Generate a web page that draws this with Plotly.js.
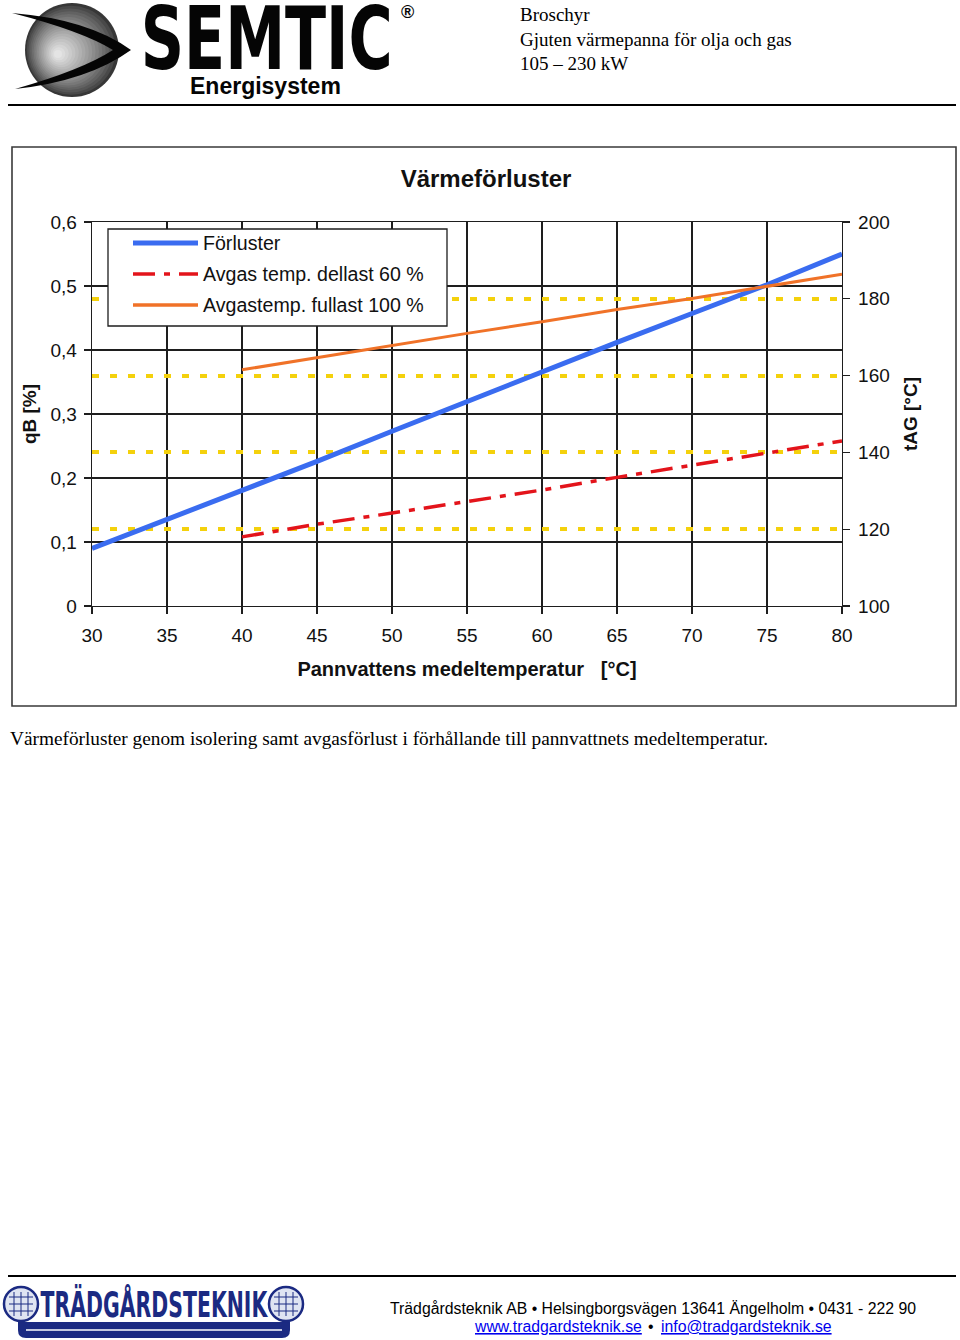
<!DOCTYPE html>
<html><head><meta charset="utf-8">
<script src="https://cdn.plot.ly/plotly-3.0.1.min.js"></script>
<style>html,body{margin:0;padding:0;background:#fff;} #chart{width:960px;height:1340px;}</style>
</head><body><div id="chart"></div>
<script>
// ---- data ----
const temps = [30, 35, 40, 45, 50, 55, 60, 65, 70, 75, 80];
const forluster = [0.09, 0.135, 0.18, 0.226, 0.273, 0.32, 0.365, 0.412, 0.457, 0.502, 0.55];
const avgasTemps = [40, 45, 50, 55, 60, 65, 70, 75, 80];
const avgasDellast = [118.0, 121.3, 124.2, 127.2, 130.2, 133.5, 136.7, 139.9, 143.0];
const avgasFullast = [161.5, 164.7, 167.9, 171.0, 174.0, 177.2, 180.1, 183.2, 186.4];
const seriesNames = ['Förluster', 'Avgas temp. dellast 60 %', 'Avgastemp. fullast 100 %'];
const xTicks = [30, 35, 40, 45, 50, 55, 60, 65, 70, 75, 80];
const leftTicks = [0, 0.1, 0.2, 0.3, 0.4, 0.5, 0.6];
const rightTicks = [100, 120, 140, 160, 180, 200];
const refTicks = [120, 140, 160, 180];
const chartTitle = 'Värmeförluster';
const xTitle = 'Pannvattens medeltemperatur\u00a0\u00a0 [°C]';
const yTitle = 'qB [%]';
const y2Title = 'tAG [°C]';
const headerLines = ['Broschyr', 'Gjuten värmepanna för olja och gas', '105 – 230 kW'];
const caption = 'Värmeförluster genom isolering samt avgasförlust i förhållande till pannvattnets medeltemperatur.';
const footerLine = 'Trädgårdsteknik AB • Helsingborgsvägen 13641 Ängelholm • 0431 - 222 90';
const footerWeb = 'www.tradgardsteknik.se';
const footerMail = 'info@tradgardsteknik.se';

// ---- helpers (page pixel -> paper) ----
const W = 960, H = 1340;
const px = x => x / W;
const py = y => 1 - y / H;
const P = s => s.replace(/(-?\d+\.?\d*),(-?\d+\.?\d*)/g, (m, a, b) => (a / W).toFixed(5) + ',' + (1 - b / H).toFixed(5));

const SANS = 'Liberation Sans, Arial, sans-serif';
const SERIF = 'Liberation Serif, Times New Roman, serif';
const COND = 'DejaVu Sans Condensed, DejaVu Sans, sans-serif';
const ink = '#111111';
const gridCol = '#1e1e1e';
const blue = '#3a6cf0', red = '#e3141b', orange = '#f07228', yellow = '#f4d10c', navy = '#1b2a82';
const redDash = '22px,9px,6px,9px';

const traces = [
  {x: temps, y: forluster, type: 'scatter', mode: 'lines', name: seriesNames[0],
   line: {color: blue, width: 5}, xaxis: 'x', yaxis: 'y', hoverinfo: 'skip'},
  {x: avgasTemps, y: avgasDellast, type: 'scatter', mode: 'lines', name: seriesNames[1],
   line: {color: red, width: 3.5, dash: redDash}, xaxis: 'x', yaxis: 'y2', hoverinfo: 'skip'},
  {x: avgasTemps, y: avgasFullast, type: 'scatter', mode: 'lines', name: seriesNames[2],
   line: {color: orange, width: 3}, xaxis: 'x', yaxis: 'y2', hoverinfo: 'skip'},
  // empty trace so the reference-line axis (yaxis3) gets its subplot and grid drawn
  {x: [], y: [], type: 'scatter', mode: 'lines', xaxis: 'x', yaxis: 'y3', hoverinfo: 'skip', showlegend: false}
];

const axisCommon = {
  ticks: 'outside', ticklen: 7, tickwidth: 1.3, tickcolor: gridCol,
  showline: true, linecolor: gridCol, linewidth: 1.3, zeroline: false,
  automargin: false, tickfont: {family: SANS, size: 19, color: ink}
};

const shapes = [];
const annotations = [];

// header rule and footer rule
shapes.push({type: 'line', xref: 'paper', yref: 'paper', x0: px(8), x1: px(956), y0: py(105), y1: py(105), line: {color: '#000', width: 2}});
shapes.push({type: 'line', xref: 'paper', yref: 'paper', x0: px(8), x1: px(956), y0: py(1276), y1: py(1276), line: {color: '#000', width: 2}});
// chart frame
shapes.push({type: 'rect', xref: 'paper', yref: 'paper', x0: px(12), x1: px(956), y0: py(706), y1: py(147), line: {color: '#3a3a3a', width: 1.6}, layer: 'below'});

// SEMTIC logo: shaded sphere (stacked discs for a soft gradient)
const nSteps = 18;
for (let i = 0; i < nSteps; i++) {
  const t = i / (nSteps - 1);
  const r = 47 * (1 - t) + 4 * t;
  const cx = 72 - 14 * t, cy = 50 + 4 * t;
  const g = Math.round(55 + (228 - 55) * Math.pow(t, 0.8));
  shapes.push({type: 'circle', xref: 'paper', yref: 'paper', x0: px(cx - r), x1: px(cx + r), y0: py(cy + r), y1: py(cy - r),
    fillcolor: `rgb(${g},${g},${g})`, line: {width: 0}, layer: 'above'});
}
// swoosh
shapes.push({type: 'path', xref: 'paper', yref: 'paper', layer: 'above', fillcolor: '#050505', line: {width: 0},
  path: P('M12,13 Q88,19 131,50 Q88,81 15,89 Q82,70 113,50 Q82,31 12,13 Z')});
annotations.push({text: 'SEMTIC', x: px(266), y: py(39), xref: 'paper', yref: 'paper', xanchor: 'center', yanchor: 'middle', showarrow: false,
  font: {family: COND, size: 80, weight: 'bold', color: '#050505'}});
annotations.push({text: '®', x: px(407), y: py(12), xref: 'paper', yref: 'paper', xanchor: 'center', yanchor: 'middle', showarrow: false,
  font: {family: SANS, size: 18, weight: 'bold', color: '#050505'}});
annotations.push({text: 'Energisystem', x: px(265), y: py(86), xref: 'paper', yref: 'paper', xanchor: 'center', yanchor: 'middle', showarrow: false,
  font: {family: SANS, size: 23, weight: 'bold', color: '#050505'}});

// header text
annotations.push({text: headerLines.join('<br>'), x: px(518), y: py(39), xref: 'paper', yref: 'paper', xanchor: 'left', yanchor: 'middle', align: 'left', showarrow: false,
  font: {family: SERIF, size: 19, color: '#000'}});

// caption
annotations.push({text: caption, x: px(8), y: py(738), xref: 'paper', yref: 'paper', xanchor: 'left', yanchor: 'middle', showarrow: false,
  font: {family: SERIF, size: 19.3, color: '#000'}});

// footer text
annotations.push({text: footerLine, x: px(653), y: py(1308), xref: 'paper', yref: 'paper', xanchor: 'center', yanchor: 'middle', showarrow: false,
  font: {family: SANS, size: 15.8, color: '#000'}});
annotations.push({text: footerWeb, x: px(644), y: py(1326), xref: 'paper', yref: 'paper', xanchor: 'right', yanchor: 'middle', showarrow: false,
  font: {family: SANS, size: 15.8, color: '#0000ee', lineposition: 'under'}});
annotations.push({text: '•', x: px(651), y: py(1326), xref: 'paper', yref: 'paper', xanchor: 'center', yanchor: 'middle', showarrow: false,
  font: {family: SANS, size: 15.8, color: '#000'}});
annotations.push({text: footerMail, x: px(659), y: py(1326), xref: 'paper', yref: 'paper', xanchor: 'left', yanchor: 'middle', showarrow: false,
  font: {family: SANS, size: 15.8, color: '#0000ee', lineposition: 'under'}});

// footer logo (Trädgårdsteknik)
shapes.push({type: 'path', xref: 'paper', yref: 'paper', layer: 'above', fillcolor: navy, line: {width: 0},
  path: P('M18,1322 L290,1322 L290,1330 Q290,1338 282,1338 L26,1338 Q18,1338 18,1330 Z')});
shapes.push({type: 'line', xref: 'paper', yref: 'paper', layer: 'above', x0: px(26), x1: px(282), y0: py(1330), y1: py(1330), line: {color: '#ffffff', width: 1.5}});
[[21, 1304], [286, 1304]].forEach(c => {
  const [cx, cy] = c, r = 17;
  shapes.push({type: 'circle', xref: 'paper', yref: 'paper', layer: 'above', x0: px(cx - r), x1: px(cx + r), y0: py(cy + r), y1: py(cy - r),
    fillcolor: '#dfe4f2', line: {color: navy, width: 2.5}});
  [-7, 0, 7].forEach(d => {
    shapes.push({type: 'line', xref: 'paper', yref: 'paper', layer: 'above', x0: px(cx - 12), x1: px(cx + 12), y0: py(cy + d), y1: py(cy + d), line: {color: navy, width: 1}});
    shapes.push({type: 'line', xref: 'paper', yref: 'paper', layer: 'above', x0: px(cx + d), x1: px(cx + d), y0: py(cy - 12), y1: py(cy + 12), line: {color: navy, width: 1}});
  });
});
annotations.push({text: 'TRÄDGÅRDSTEKNIK', x: px(154), y: py(1305), xref: 'paper', yref: 'paper', xanchor: 'center', yanchor: 'middle', showarrow: false,
  font: {family: COND, size: 28, weight: 'bold', color: navy}});

// manual legend
shapes.push({type: 'rect', xref: 'paper', yref: 'paper', layer: 'above', x0: px(108), x1: px(447), y0: py(326), y1: py(229),
  fillcolor: '#ffffff', line: {color: gridCol, width: 1.3}});
const legY = [243, 274, 305];
const legStyles = [
  {color: blue, width: 5},
  {color: red, width: 3.5, dash: redDash},
  {color: orange, width: 3.5}
];
seriesNames.forEach((n, i) => {
  shapes.push({type: 'line', xref: 'paper', yref: 'paper', layer: 'above', x0: px(133), x1: px(198), y0: py(legY[i]), y1: py(legY[i]), line: legStyles[i]});
  annotations.push({text: n, x: px(201), y: py(legY[i]), xref: 'paper', yref: 'paper', xanchor: 'left', yanchor: 'middle', showarrow: false,
    font: {family: SANS, size: 19.6, color: ink}});
});

const layout = {
  width: W, height: H,
  margin: {l: 0, r: 0, t: 0, b: 0, pad: 0},
  paper_bgcolor: '#ffffff', plot_bgcolor: '#ffffff',
  separators: ', ',
  showlegend: false,
  font: {family: SANS, color: ink, size: 19},
  title: {text: chartTitle, font: {family: SANS, size: 24, weight: 'bold', color: ink},
          x: px(486), xref: 'paper', xanchor: 'center', y: py(179), yref: 'paper', yanchor: 'middle'},
  xaxis: Object.assign({}, axisCommon, {
    domain: [px(92), px(842)], range: [30, 80], tickmode: 'array', tickvals: xTicks,
    showgrid: true, gridcolor: gridCol, gridwidth: 1.3, mirror: true, anchor: 'y', ticklabelstandoff: 5,
    title: {text: xTitle, font: {family: SANS, size: 20, weight: 'bold', color: ink}, standoff: 17}
  }),
  yaxis: Object.assign({}, axisCommon, {
    domain: [py(606), py(222)], range: [0, 0.6], tickmode: 'array', tickvals: leftTicks,
    showgrid: true, gridcolor: gridCol, gridwidth: 1.3, anchor: 'x', ticklabelstandoff: 3,
    title: {text: yTitle, font: {family: SANS, size: 19, weight: 'bold', color: ink}, standoff: 8}
  }),
  yaxis2: Object.assign({}, axisCommon, {
    overlaying: 'y', side: 'right', anchor: 'x', range: [100, 200], tickmode: 'array', tickvals: rightTicks,
    showgrid: false, ticklabelstandoff: 4,
    title: {text: y2Title, font: {family: SANS, size: 19, weight: 'bold', color: ink}, standoff: 15}
  }),
  yaxis3: {
    overlaying: 'y', side: 'right', anchor: 'x', range: [100, 200], tickmode: 'array', tickvals: refTicks,
    showgrid: true, gridcolor: yellow, gridwidth: 4, griddash: '7px,11px',
    showticklabels: false, ticks: '', showline: false, zeroline: false, automargin: false
  },
  shapes: shapes,
  annotations: annotations
};

// squeeze a logo word to the logo's proportions (text stays real text)
function squeeze(word, targetW, sy) {
  document.querySelectorAll('#chart text.annotation-text').forEach(n => {
    if (n.textContent !== word) return;
    const bb = n.getBBox();
    const cx = bb.x + bb.width / 2, cy = bb.y + bb.height / 2;
    const sx = targetW / bb.width;
    const prev = n.getAttribute('transform') || '';
    n.setAttribute('transform', (prev + ` translate(${cx},${cy}) scale(${sx},${sy}) translate(${-cx},${-cy})`).trim());
  });
}

Plotly.newPlot('chart', traces, layout, {staticPlot: true, displayModeBar: false}).then(() => {
  squeeze('SEMTIC', 252, 1.08);
  squeeze('TRÄDGÅRDSTEKNIK', 228, 1.25);
});
</script>
</body></html>
